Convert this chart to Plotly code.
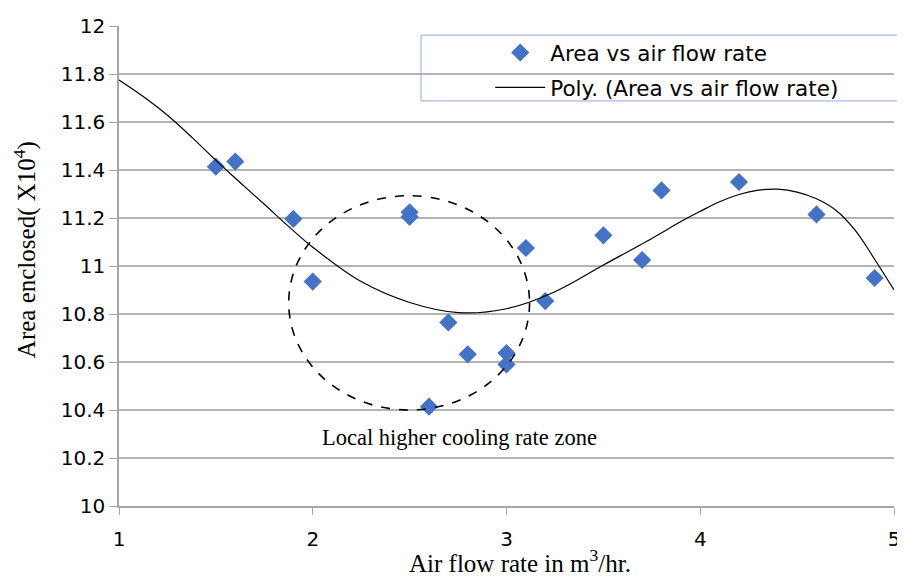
import plotly.graph_objects as go

# Measured points
flow_rate = [1.5, 1.6, 1.9, 2.0, 2.5, 2.5, 2.6, 2.7, 2.8, 3.0, 3.0, 3.1, 3.2, 3.5, 3.7, 3.8, 4.2, 4.6, 4.9]
area = [11.414, 11.435, 11.196, 10.935, 11.224, 11.205, 10.414, 10.765, 10.632, 10.637, 10.59,
        11.075, 10.854, 11.128, 11.025, 11.315, 11.35, 11.215, 10.95]

# Polynomial trendline, values
trend_x = [1.0, 1.125, 1.25, 1.375, 1.5, 1.625, 1.75, 1.875, 2.0, 2.25, 2.5, 2.75, 3.0, 3.25,
           3.5, 3.75, 3.9, 4.0, 4.1, 4.2, 4.3, 4.4, 4.5, 4.6, 4.7, 4.8, 4.9, 5.0]
trend_y = [11.775, 11.706, 11.628, 11.537, 11.44, 11.348, 11.257, 11.165, 11.078, 10.935, 10.848,
           10.806, 10.822, 10.893, 11.004, 11.115, 11.185, 11.228, 11.268, 11.298, 11.316, 11.32,
           11.308, 11.28, 11.232, 11.148, 11.028, 10.90]

x_ticks = [1, 2, 3, 4, 5]
y_ticks = [10, 10.2, 10.4, 10.6, 10.8, 11, 11.2, 11.4, 11.6, 11.8, 12]
y_ticktext = ["10", "10.2", "10.4", "10.6", "10.8", "11", "11.2", "11.4", "11.6", "11.8", "12"]

zone_label = "Local higher cooling rate zone"
zone_x = [1.876, 3.119]
zone_y = [10.40, 11.293]
x_title = "Air flow rate in m<sup>3</sup>/hr."
y_title = "Area enclosed( X10<sup>4</sup>)"

SANS = "DejaVu Sans"
SERIF = "Liberation Serif"

fig = go.Figure()
fig.add_trace(go.Scatter(
    x=flow_rate, y=area, mode="markers", name="Area vs air flow rate",
    legendgroup="a",
    marker=dict(symbol="diamond", size=14, color="#4472C4"),
))
fig.add_trace(go.Scatter(
    x=trend_x, y=trend_y, mode="lines", name="Poly. (Area vs air flow rate)",
    legendgroup="b",
    line=dict(color="black", width=1.2, shape="spline", smoothing=1.0),
))

# zone ellipse
fig.add_shape(type="circle", xref="x", yref="y",
              x0=zone_x[0], x1=zone_x[1], y0=zone_y[0], y1=zone_y[1],
              line=dict(color="black", width=1.6, dash="dash"))
fig.add_annotation(x=2.755, y=10.2875, xref="x", yref="y",
                   text=zone_label, showarrow=False,
                   font=dict(family=SERIF, size=22.5, color="black"))

# legend frame (extends to the right edge like the reference)
fig.add_shape(type="rect", xref="paper", yref="paper",
              x0=0.3897, x1=1.03, y0=0.8438, y1=0.981,
              line=dict(color="#8eaadb", width=1), fillcolor="rgba(255,255,255,0)",
              layer="above")

# axis titles
fig.add_annotation(x=0.5, y=0, xref="paper", yref="paper", xshift=13, yshift=-55,
                   yanchor="middle", text=x_title, showarrow=False,
                   font=dict(family=SERIF, size=25, color="black"))
fig.add_annotation(x=0, y=0.533, xref="paper", yref="paper", xshift=-94,
                   xanchor="center", yanchor="middle", textangle=-90,
                   text=y_title, showarrow=False,
                   font=dict(family=SERIF, size=25, color="black"))

# the page adds an 8px body margin, so the figure is 8px smaller than the window
fig.update_layout(
    width=897, height=569,
    margin=dict(l=111, r=11, t=18, b=71),
    paper_bgcolor="white", plot_bgcolor="white",
    font=dict(family=SANS, size=20, color="black"),
    showlegend=True,
    legend=dict(x=0.479, y=0.9875, xanchor="left", yanchor="top",
                bgcolor="rgba(255,255,255,0)", borderwidth=0,
                font=dict(family=SANS, size=21.5, color="black"),
                itemwidth=50, tracegroupgap=4),
)
fig.update_xaxes(
    range=[1, 5], tickvals=x_ticks, showgrid=False, zeroline=False, automargin=False,
    showline=True, linecolor="#a6a6a6", linewidth=1.5,
    ticks="outside", ticklen=7, tickcolor="#a6a6a6", ticklabelstandoff=7,
)
fig.update_yaxes(
    range=[10, 12], tickvals=y_ticks, ticktext=y_ticktext, automargin=False,
    showgrid=True, gridcolor="#b4b4b4", gridwidth=1.5, zeroline=False,
    showline=True, linecolor="#a6a6a6", linewidth=1.5,
    ticks="outside", ticklen=8, tickcolor="#a6a6a6",
)

fig.write_html("out.html")
